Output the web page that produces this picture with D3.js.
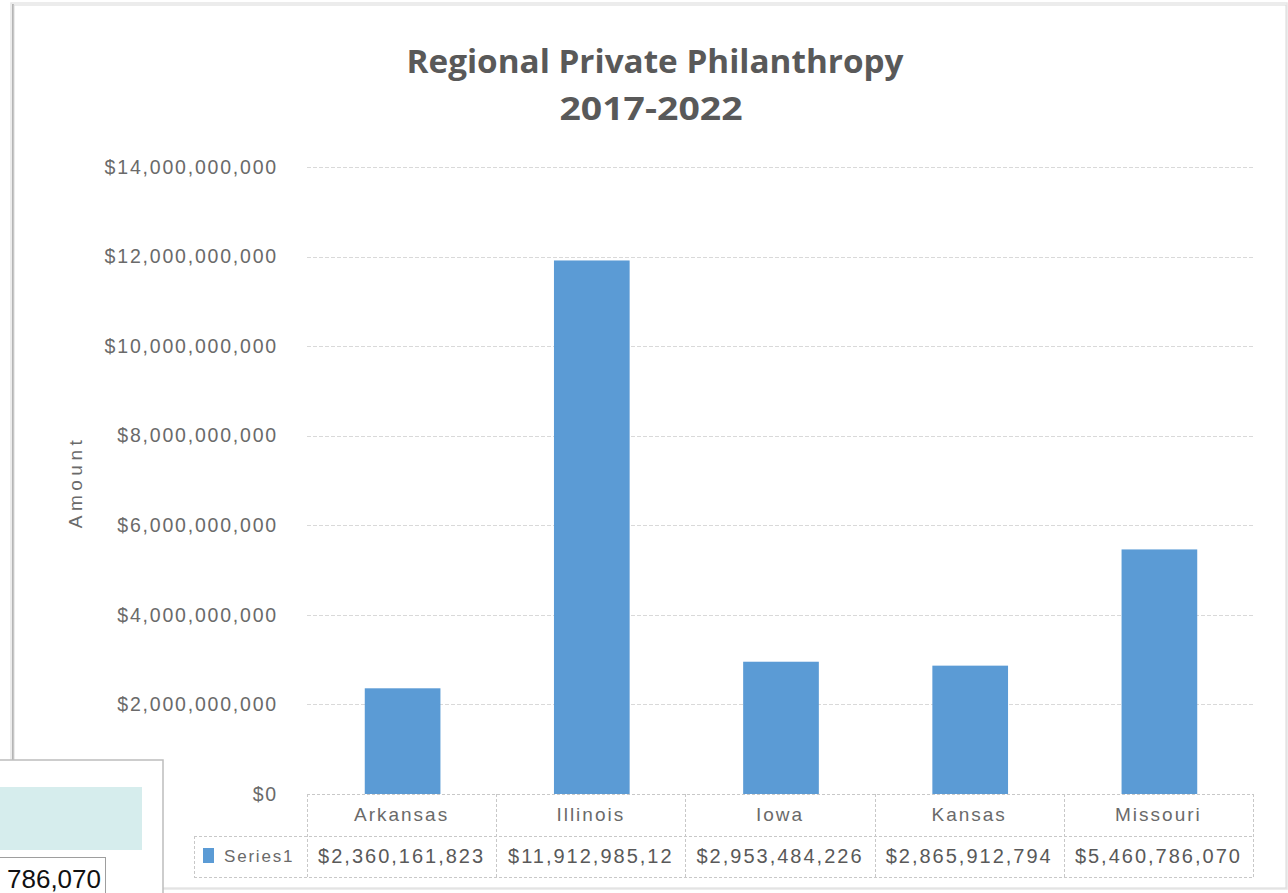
<!DOCTYPE html>
<html>
<head>
<meta charset="utf-8">
<script src="https://cdn.jsdelivr.net/npm/d3@7"></script>
<style>
  html, body { margin: 0; padding: 0; background: #fff; }
  svg { display: block; }
</style>
</head>
<body>
<svg id="chart" width="1288" height="893"></svg>
<script>
// ---- data ----
const titleLines = ["Regional Private Philanthropy", "2017-2022"];
const categories = ["Arkansas", "Illinois", "Iowa", "Kansas", "Missouri"];
const values = [2360161823, 11912985120, 2953484226, 2865912794, 5460786070];
const tableLabels = ["$2,360,161,823", "$11,912,985,12", "$2,953,484,226", "$2,865,912,794", "$5,460,786,070"];
const yTicks = [0, 2e9, 4e9, 6e9, 8e9, 10e9, 12e9, 14e9];
const seriesName = "Series1";
const yAxisTitle = "Amount";
const overlayText = "786,070";

// ---- setup ----
const svg = d3.select("#chart");
const grey = "#595959";
const lightGrey = "#6a6a6a";
const barColor = "#5b9bd5";
const font = "'Liberation Sans', Arial, sans-serif";

const plotLeft = 307, plotRight = 1253, plotTop = 167, plotBottom = 794;
const rowMid = 836, rowBottom = 877, legendLeft = 194;

const x = d3.scaleBand().domain(categories).range([plotLeft, plotRight]).padding(0);
const y = d3.scaleLinear().domain([0, 14e9]).range([plotBottom, plotTop]);

// chart frame with shadow
svg.append("rect").attr("x", 11).attr("y", 3).attr("width", 1276).attr("height", 886)
  .attr("fill", "none").attr("stroke", "#e6e6e6").attr("stroke-width", 1.5);
svg.append("line").attr("x1", 13).attr("x2", 13).attr("y1", 4).attr("y2", 889)
  .attr("stroke", "#b5b5b5").attr("stroke-width", 2);
svg.append("rect").attr("x", 14).attr("y", 5).attr("width", 1272).attr("height", 883)
  .attr("fill", "#fff").attr("stroke", "#d9d9d9").attr("stroke-width", 1);

// title
const tg = svg.append("g").attr("font-family", "'Open Sans', 'Liberation Sans', sans-serif")
  .attr("font-weight", "bold").attr("fill", grey).attr("text-anchor", "middle");
tg.append("text").attr("x", 655).attr("y", 73).attr("font-size", 32)
  .attr("textLength", 497).attr("lengthAdjust", "spacingAndGlyphs").text(titleLines[0]);
tg.append("text").attr("x", 651).attr("y", 120).attr("font-size", 32)
  .attr("textLength", 183).attr("lengthAdjust", "spacingAndGlyphs").text(titleLines[1]);

// gridlines
svg.append("g").selectAll("line").data(yTicks.filter(d => d > 0)).join("line")
  .attr("x1", plotLeft).attr("x2", plotRight)
  .attr("y1", d => Math.round(y(d)) + 0.5).attr("y2", d => Math.round(y(d)) + 0.5)
  .attr("stroke", "#d9d9d9").attr("stroke-width", 1).attr("stroke-dasharray", "4,2");

// y axis labels
const yAxis = d3.axisLeft(y).tickValues(yTicks).tickSize(0).tickPadding(0)
  .tickFormat(d => "$" + d3.format(",")(d));
const yg = svg.append("g").attr("transform", `translate(278,0)`).call(yAxis);
yg.select(".domain").remove();
yg.selectAll("text").attr("font-family", font).attr("font-size", 19.5)
  .attr("fill", lightGrey).attr("letter-spacing", "1.8px");

// y axis title
svg.append("text").attr("transform", "translate(82,482) rotate(-90)")
  .attr("text-anchor", "middle").attr("font-family", font).attr("font-size", 19)
  .attr("fill", lightGrey).attr("letter-spacing", "4.5px").text(yAxisTitle);

// bars
const bw = x.bandwidth() * 0.4;
svg.append("g").selectAll("rect").data(values).join("rect")
  .attr("x", (d, i) => x(categories[i]) + (x.bandwidth() - bw) / 2 + 1)
  .attr("width", bw)
  .attr("y", d => y(d))
  .attr("height", d => y(0) - y(d))
  .attr("fill", barColor);

// data table lines
const tl = svg.append("g").attr("stroke", "#c8c8c8").attr("stroke-width", 1).attr("stroke-dasharray", "3,2");
tl.append("line").attr("x1", plotLeft).attr("x2", plotRight).attr("y1", plotBottom + 0.5).attr("y2", plotBottom + 0.5);
tl.append("line").attr("x1", legendLeft).attr("x2", plotRight).attr("y1", rowMid + 0.5).attr("y2", rowMid + 0.5);
tl.append("line").attr("x1", legendLeft).attr("x2", plotRight).attr("y1", rowBottom + 0.5).attr("y2", rowBottom + 0.5);
tl.append("line").attr("x1", legendLeft + 0.5).attr("x2", legendLeft + 0.5).attr("y1", rowMid).attr("y2", rowBottom);
const bounds = categories.map(c => x(c)).concat([plotRight]);
tl.selectAll(".v").data(bounds).join("line").attr("class", "v")
  .attr("x1", d => Math.round(d) + 0.5).attr("x2", d => Math.round(d) + 0.5)
  .attr("y1", plotBottom).attr("y2", rowBottom);

// category names
svg.append("g").selectAll("text").data(categories).join("text")
  .attr("x", d => x(d) + x.bandwidth() / 2).attr("y", 821)
  .attr("text-anchor", "middle").attr("font-family", font).attr("font-size", 19)
  .attr("fill", lightGrey).attr("letter-spacing", "2px").text(d => d);

// values
svg.append("g").selectAll("text").data(tableLabels).join("text")
  .attr("x", (d, i) => x(categories[i]) + x.bandwidth() / 2).attr("y", 863)
  .attr("text-anchor", "middle").attr("font-family", font).attr("font-size", 20)
  .attr("fill", grey).attr("letter-spacing", "2px").text(d => d);

// legend key
svg.append("rect").attr("x", 203).attr("y", 848).attr("width", 11).attr("height", 15).attr("fill", barColor);
svg.append("text").attr("x", 224).attr("y", 862).attr("font-family", font).attr("font-size", 17)
  .attr("fill", lightGrey).attr("letter-spacing", "1.8px").text(seriesName);

// overlay panel (bottom-left)
svg.append("rect").attr("x", -2).attr("y", 760).attr("width", 165).attr("height", 140)
  .attr("fill", "#fff").attr("stroke", "#bdbdbd").attr("stroke-width", 1.5);
svg.append("rect").attr("x", 0).attr("y", 787).attr("width", 142).attr("height", 63).attr("fill", "#d6eded");
svg.append("rect").attr("x", -2).attr("y", 857.5).attr("width", 107.5).attr("height", 40)
  .attr("fill", "#fff").attr("stroke", "#9e9e9e").attr("stroke-width", 1);
svg.append("text").attr("x", 101).attr("y", 888).attr("text-anchor", "end")
  .attr("font-family", "'Liberation Sans', Arial, sans-serif").attr("font-size", 26)
  .attr("fill", "#111").text(overlayText);
</script>
</body>
</html>
